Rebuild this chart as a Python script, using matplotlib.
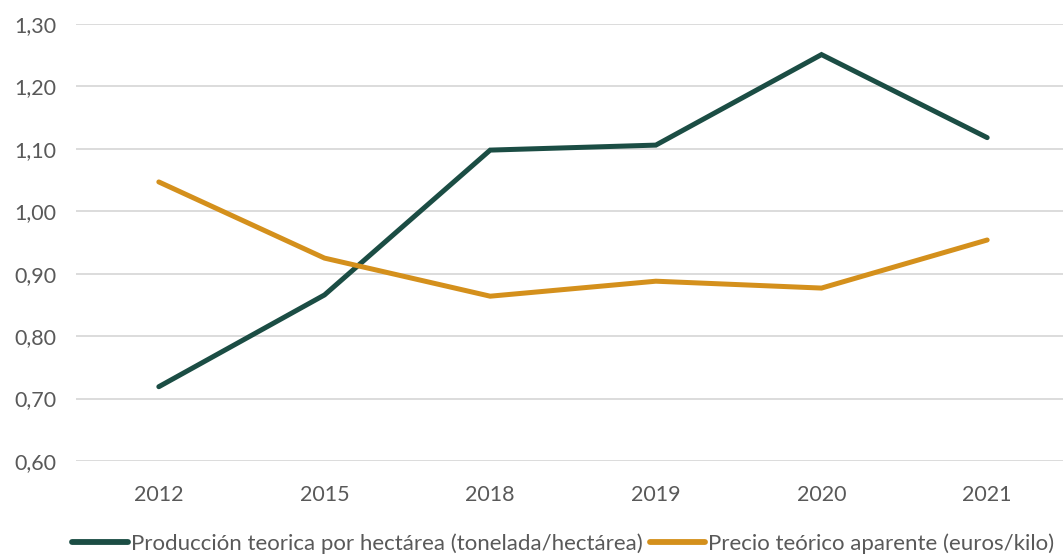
import numpy as np
import matplotlib.pyplot as plt
import matplotlib.ticker as tck

years = ["2012", "2015", "2018", "2019", "2020", "2021"]
produccion = [0.719, 0.866, 1.098, 1.106, 1.251, 1.118]
precio = [1.047, 0.925, 0.864, 0.888, 0.877, 0.954]
label_prod = "Producción teorica por hectárea (tonelada/hectárea)"
label_precio = "Precio teórico aparente (euros/kilo)"

plt.rcParams['font.family'] = ['Lato', 'DejaVu Sans']

fig = plt.figure(figsize=(10.63, 5.55), dpi=100)
ax = fig.add_axes([76/1063, (555-461)/555, 994/1063, (461-24)/555])

x = np.arange(len(years))
ax.plot(x, produccion, color='#1b4d44', lw=3.6, solid_capstyle='round', solid_joinstyle='miter', label=label_prod)
ax.plot(x, precio, color='#d4901c', lw=3.6, solid_capstyle='round', solid_joinstyle='miter', label=label_precio)

ax.set_xlim(-0.5, 5.5)
ax.set_ylim(0.6, 1.3)
ax.set_xticks(x)
ax.set_xticklabels(years)
ax.set_yticks(np.arange(0.6, 1.31, 0.1))
ax.yaxis.set_major_formatter(tck.FuncFormatter(lambda v, p: f"{v:.2f}".replace('.', ',')))
ax.tick_params(length=0, labelsize=15.5, labelcolor='#595959')
ax.tick_params(axis='x', pad=17)
ax.tick_params(axis='y', pad=14)
ax.grid(axis='y', color='#d9d9d9', lw=1.3)
ax.set_axisbelow(True)
for s in ax.spines.values():
    s.set_visible(False)

fs = 16
leg = fig.legend(loc='center', bbox_to_anchor=(0.53, 0.02), ncol=2, frameon=False,
                 handlelength=40/fs, handletextpad=0.15, columnspacing=0.3,
                 prop={'family': ['Lato', 'DejaVu Sans'], 'size': fs})
for t in leg.get_texts():
    t.set_color('#595959')
for h in leg.get_lines():
    h.set_linewidth(4.2)
    h.set_solid_capstyle('round')

fig.savefig('out.png', dpi=100)
